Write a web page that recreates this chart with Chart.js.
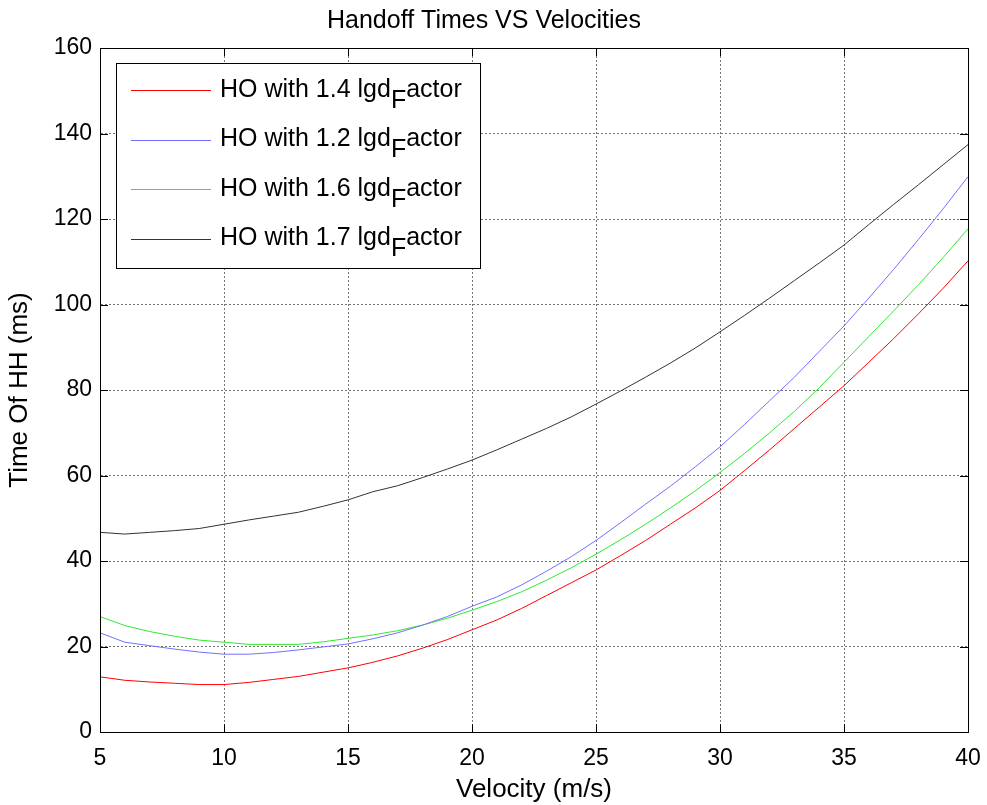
<!DOCTYPE html>
<html>
<head>
<meta charset="utf-8">
<script src="https://cdn.jsdelivr.net/npm/chart.js@4"></script>
<style>
  html, body { margin: 0; padding: 0; background: #fff; }
  #wrap { width: 987px; height: 805px; }
</style>
</head>
<body>
<div id="wrap"><canvas id="hoChart" width="987" height="805"></canvas></div>
<script>
/* ================= DATA ================= */
const velocities = [5,6,7,8,9,10,11,12,13,14,15,16,17,18,19,20,21,22,23,24,25,26,27,28,29,30,31,32,33,34,35,36,37,38,39,40];

const ho14 = [12.9,12.1,11.7,11.4,11.1,11.1,11.6,12.3,13.0,14.0,15.0,16.3,17.8,19.6,21.6,23.9,26.2,28.9,31.9,34.9,37.9,41.3,44.8,48.6,52.4,56.5,61.2,66.0,71.0,76.0,81.0,86.5,92.0,97.8,103.8,110.2];
const ho12 = [23.2,21.0,20.2,19.4,18.7,18.2,18.2,18.6,19.2,19.9,20.6,21.8,23.2,25.0,27.0,29.4,31.6,34.4,37.6,41.0,44.8,49.0,53.3,57.5,62.0,66.7,72.0,77.5,83.0,89.0,95.0,101.5,108.2,115.2,122.4,129.9];
const ho16 = [27.0,24.9,23.5,22.4,21.5,21.0,20.5,20.5,20.5,21.1,21.9,22.7,23.7,25.0,26.6,28.5,30.5,32.8,35.5,38.4,41.6,45.0,48.6,52.4,56.4,60.7,65.2,70.0,75.0,80.5,86.5,92.5,98.5,104.6,111.0,117.7];
const ho17 = [46.7,46.3,46.7,47.1,47.6,48.6,49.6,50.5,51.4,52.8,54.3,56.2,57.6,59.5,61.5,63.6,66.0,68.5,71.0,73.7,76.7,79.8,83.0,86.3,89.8,93.6,97.5,101.5,105.6,109.7,113.9,118.7,123.4,128.0,132.7,137.4];

const seriesLabels = ['HO with 1.4 lgd_Factor', 'HO with 1.2 lgd_Factor', 'HO with 1.6 lgd_Factor', 'HO with 1.7 lgd_Factor'];
const xTicks = [5, 10, 15, 20, 25, 30, 35, 40];
const yTicks = [0, 20, 40, 60, 80, 100, 120, 140, 160];

const FONT = 'Arial, "Liberation Sans", sans-serif';

/* ================= PLUGINS ================= */
// box around plot area + inward tick marks on all four sides (matlab style)
const boxPlugin = {
    id: 'boxTicks',
    afterDatasetsDraw(chart) {
        const { ctx, chartArea: a, scales } = chart;
        ctx.save();
        ctx.strokeStyle = '#000';
        ctx.lineWidth = 1;
        ctx.strokeRect(a.left + 0.5, a.top + 0.5, a.right - a.left, a.bottom - a.top);
        ctx.beginPath();
        xTicks.forEach(v => {
            const px = Math.round(scales.x.getPixelForValue(v)) + 0.5;
            ctx.moveTo(px, a.bottom); ctx.lineTo(px, a.bottom - 8);
            ctx.moveTo(px, a.top); ctx.lineTo(px, a.top + 8);
        });
        yTicks.forEach(v => {
            const py = Math.round(scales.y.getPixelForValue(v)) + 0.5;
            ctx.moveTo(a.left, py); ctx.lineTo(a.left + 8, py);
            ctx.moveTo(a.right, py); ctx.lineTo(a.right - 8, py);
        });
        ctx.stroke();
        ctx.restore();
    }
};

// legend with subscript F in the labels
const legendPlugin = {
    id: 'subLegend',
    afterDraw(chart) {
        const ctx = chart.ctx;
        const a = chart.chartArea;
        const x0 = a.left + 16, y0 = a.top + 15, w = 364, h = 205;
        ctx.save();
        ctx.fillStyle = '#fff';
        ctx.fillRect(x0, y0, w, h);
        ctx.strokeStyle = '#000';
        ctx.lineWidth = 1;
        ctx.strokeRect(x0 + 0.5, y0 + 0.5, w, h);
        chart.data.datasets.forEach((ds, i) => {
            const y = y0 + 27 + i * 49.5;
            ctx.strokeStyle = ds.borderColor;
            ctx.beginPath();
            ctx.moveTo(x0 + 15, Math.round(y) + 0.5);
            ctx.lineTo(x0 + 95, Math.round(y) + 0.5);
            ctx.stroke();
            const parts = ds.label.split('_');
            let tx = x0 + 104;
            ctx.fillStyle = '#000';
            ctx.textBaseline = 'middle';
            ctx.font = '25px ' + FONT;
            ctx.fillText(parts[0], tx, y);
            tx += ctx.measureText(parts[0]).width;
            if (parts[1]) {
                const sub = parts[1].charAt(0);
                ctx.fillText(sub, tx, y + 11);
                tx += ctx.measureText(sub).width;
                ctx.fillText(parts[1].slice(1), tx, y);
            }
        });
        ctx.restore();
    }
};

/* ================= CHART ================= */
const colors = ['#ff0000', '#7070ff', '#30e830', '#333333'];
const seriesData = [ho14, ho12, ho16, ho17];

new Chart(document.getElementById('hoChart'), {
    type: 'line',
    data: {
        labels: velocities,
        datasets: seriesData.map((vals, i) => ({
            label: seriesLabels[i],
            data: vals.map((v, j) => ({ x: velocities[j], y: v })),
            borderColor: colors[i],
            borderWidth: 1,
            pointRadius: 0,
            tension: 0,
            fill: false
        }))
    },
    options: {
        responsive: false,
        animation: false,
        layout: { padding: { left: 0, right: 19, top: 0, bottom: 0 } },
        plugins: {
            legend: { display: false },
            tooltip: { enabled: false },
            title: {
                display: true,
                text: 'Handoff Times VS Velocities',
                color: '#000',
                font: { family: FONT, size: 25, weight: 'normal', lineHeight: 1.2 },
                padding: { top: 6, bottom: 12 }
            }
        },
        scales: {
            x: {
                type: 'linear',
                min: 5,
                max: 40,
                afterBuildTicks: scale => { scale.ticks = xTicks.map(v => ({ value: v })); },
                afterFit: scale => {
                    scale.height = 73;
                    scale.paddingLeft = 0;
                    scale.paddingRight = 0;
                },
                ticks: {
                    color: '#000',
                    font: { family: FONT, size: 23 },
                    padding: 13,
                    maxRotation: 0
                },
                grid: { color: 'rgba(0,0,0,0.55)', borderDash: [2, 2], drawTicks: false },
                border: { display: true, color: '#000', dash: [2, 2] },
                title: {
                    display: true,
                    text: 'Velocity (m/s)',
                    color: '#000',
                    font: { family: FONT, size: 26 },
                    padding: { top: 0, bottom: 0 }
                }
            },
            y: {
                min: 0,
                max: 160,
                afterBuildTicks: scale => { scale.ticks = yTicks.map(v => ({ value: v })); },
                afterFit: scale => { scale.width = 100; },
                ticks: {
                    color: '#000',
                    font: { family: FONT, size: 23 },
                    padding: 8
                },
                grid: { color: 'rgba(0,0,0,0.55)', borderDash: [2, 2], drawTicks: false },
                border: { display: true, color: '#000', dash: [2, 2] },
                title: {
                    display: true,
                    text: 'Time Of HH (ms)',
                    color: '#000',
                    font: { family: FONT, size: 26 },
                    padding: { top: 4, bottom: 0 }
                }
            }
        }
    },
    plugins: [boxPlugin, legendPlugin]
});
</script>
</body>
</html>
